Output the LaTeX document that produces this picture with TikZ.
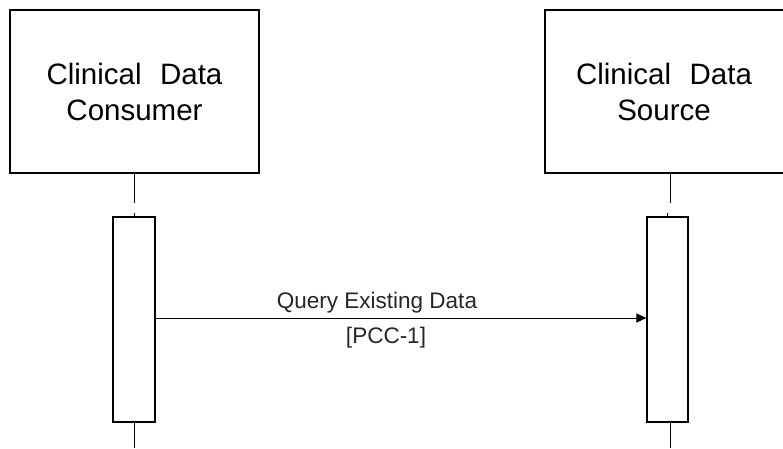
\documentclass[tikz,border=0pt]{standalone}
\usepackage{fontspec}
\setmainfont{Liberation Sans}
\usetikzlibrary{arrows.meta}
\begin{document}
\begin{tikzpicture}[x=1pt,y=-1pt,
  actor/.style={draw,line width=1.1pt,inner sep=0pt,align=center,font=\fontsize{29.5}{36}\selectfont},
  activation/.style={draw,line width=1.1pt,fill=white,inner sep=0pt},
  lifeline/.style={line width=1pt},
  msg/.style={line width=0.9pt,-{Triangle[length=10pt,width=9pt]}},
  msglabel/.style={font=\fontsize{22.5}{26}\selectfont,text=black!85}]
\useasboundingbox (0,0) rectangle (783,448);
\clip (0,0) rectangle (783,448);
\fill[white] (0,0) rectangle (783,448);
% actor boxes
\node[actor,minimum width=249pt,minimum height=163pt] (cons) at (134.5,91.5) {Clinical\hspace{0.35em} Data\\Consumer};
\node[actor,minimum width=250pt,minimum height=163pt] (src) at (670,91.5) {Clinical\hspace{0.35em} Data\hspace*{12pt}\\Source\hspace*{12pt}};
% lifelines
\coordinate (c2) at (134,203);
\coordinate (c4) at (134,448);
\coordinate (s2) at (670,203);
\coordinate (s4) at (670,448);
\draw[lifeline] (cons.south -| c2) -- (c2);
\draw[lifeline] (src.south -| s2) -- (s2);
% activation boxes
\node[activation,minimum width=42pt,minimum height=205pt] (ca) at (134,319.5) {};
\node[activation,minimum width=41pt,minimum height=205pt] (sa) at (667.5,319.5) {};
\draw[lifeline] (ca.south -| c4) -- (c4);
\draw[lifeline] (sa.south -| s4) -- (s4);
\draw[lifeline] (ca.north) -- ++(0,-3);
\draw[lifeline] (sa.north) -- ++(0,-3);
% message
\draw[msg] (ca.east |- 0,318) coordinate (m1) -- (sa.west |- 0,318) coordinate (m2);
\node[msglabel] (lab1) at (377,303) {Query Existing Data};
\node[msglabel] (lab2) at (386,338) {[PCC-1]};
\end{tikzpicture}
\end{document}
